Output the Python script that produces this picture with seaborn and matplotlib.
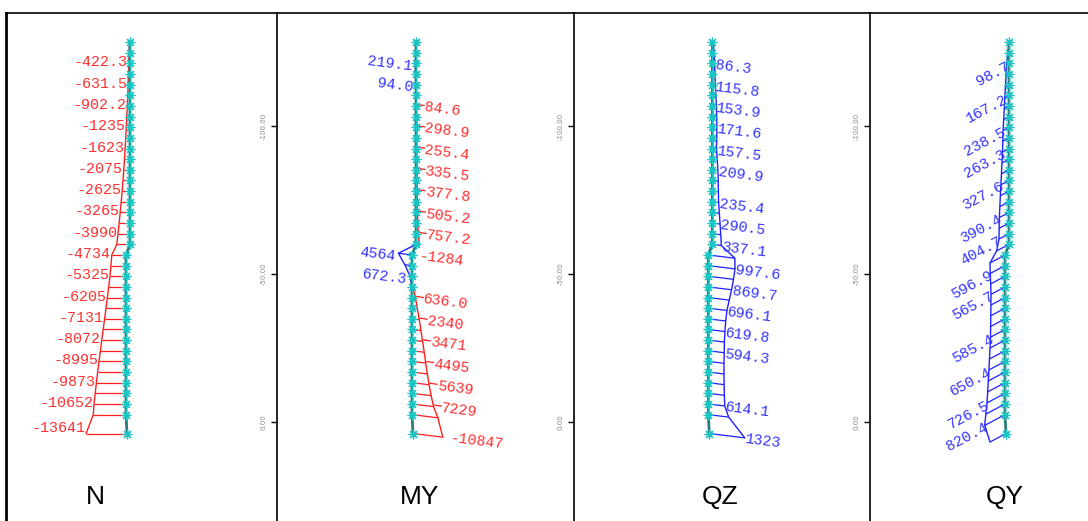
import numpy as np
import matplotlib
matplotlib.use("Agg")
import matplotlib.pyplot as plt
import seaborn as sns
from matplotlib.collections import LineCollection

# ── Data ─────────────────────────────────────────────────────────────

# node depths (axis units, -100 above 0) and small horizontal kink of the column (px)
node_depth = [-128.4, -124.8, -121.2, -117.6, -114.0, -110.4, -106.8, -103.2, -99.6, -96.0,
              -92.4, -88.8, -85.2, -81.6, -78.0, -74.4, -70.8, -67.2, -63.6, -60.0,
              -56.4, -52.8, -49.2, -45.6, -42.0, -38.4, -34.8, -31.2, -27.6, -24.0,
              -20.4, -16.8, -13.2, -9.6, -6.0, -2.4, 4.0]
node_shift = [4, 4, 4, 4, 4, 4, 4, 4, 4, 4, 4, 4, 4, 4, 4, 4, 4, 4, 4, 4,
              0, 0, 0, 0, 0, 0, 0, 0, 0, 0, 0, 0, 0, 0, 0, 0, 1]

# N: axial force
n_val = [-150, -300, -422.3, -520, -631.5, -760, -902.2, -1060, -1235, -1420,
         -1623, -1840, -2075, -2340, -2625, -2930, -3265, -3620, -3990, -4400,
         -4734, -5020, -5325, -5750, -6205, -6660, -7131, -7600, -8072, -8530,
         -8995, -9430, -9873, -10260, -10652, -10900, -13641]
n_lab_nodes = [3, 5, 7, 9, 11, 13, 15, 17, 19, 21, 23, 25, 27, 29, 31, 33, 35, 37]
n_lab_text = ["-422.3", "-631.5", "-902.2", "-1235", "-1623", "-2075", "-2625", "-3265",
              "-3990", "-4734", "-5325", "-6205", "-7131", "-8072", "-8995", "-9873",
              "-10652", "-13641"]

# MY: moment, drawn in pieces (start node, values)
my_top_blue = [0, -80, -219.1, -150, -94.0, 0]
my_upper_red = [0, 84.6, 200, 298.9, 280, 255.4, 300, 335.5, 355, 377.8, 440, 505.2,
                620, 757.2, 1100]
my_mid_blue = [0, -4564, -2400, -672.3, 0]
my_lower_red = [300, 1200, 1800, 2450, 3000, 3570, 4100, 4600, 5150, 5750, 6450,
                7229, 8700, 10000]
my_lab_nodes = [3, 5, 7, 9, 11, 13, 15, 17, 19, 21, 21, 23, 25, 27, 29, 31, 33, 35, 37]
my_lab_text = ["219.1", "94.0", "84.6", "298.9", "255.4", "335.5", "377.8", "505.2",
               "757.2", "-1284", "4564", "672.3", "636.0", "2340", "3471", "4495",
               "5639", "7229", "-10847"]
my_lab_color = ["b", "b", "r", "r", "r", "r", "r", "r", "r", "r", "b", "b",
                "r", "r", "r", "r", "r", "r", "r"]

# QZ: shear
qz_val = [40, 65, 86.3, 100, 115.8, 135, 153.9, 165, 171.6, 165, 157.5, 185, 209.9,
          220, 228, 235.4, 262, 290.5, 315, 337.1, 990, 997.6, 940, 869.7, 780, 696.1,
          650, 619.8, 600, 594.3, 585, 585, 590, 600, 614.1, 760, 1323]
qz_lab_nodes = [3, 5, 7, 9, 11, 13, 16, 18, 20, 22, 24, 26, 28, 30, 35, 37]
qz_lab_text = ["86.3", "115.8", "153.9", "171.6", "157.5", "209.9", "235.4", "290.5",
               "337.1", "997.6", "869.7", "696.1", "619.8", "594.3", "614.1", "1323"]

# QY: shear
qy_val = [0, 50, 98.7, 120, 145, 167.2, 190, 215, 238.5, 250, 263.3, 285, 305, 327.6,
          350, 370, 390.4, 398, 404.7, 500, 607, 596.9, 580, 565.7, 570, 575, 580,
          585.4, 605, 628, 650.4, 675, 700, 726.5, 775, 820.4, 646]
qy_lab_nodes = [3, 6, 9, 11, 14, 17, 19, 22, 24, 28, 31, 34, 36]
qy_lab_text = ["98.7", "167.2", "238.5", "263.3", "327.6", "390.4", "404.7", "596.9",
               "565.7", "585.4", "650.4", "726.5", "820.4"]

# ── Layout ───────────────────────────────────────────────────────────

W, H = 1088, 521
PX = 2.956            # pixels per axis unit (vertical)
Y_ZERO = 421.7        # pixel row of 0.00
TOP = 13
RED, BLUE = "#ff1f1f", "#2020ff"
TXT = {"r": "#ff3030", "b": "#3535ff"}
COL_LINE, COL_STAR = "#2a7a7a", "#1cc4c4"

sns.set_theme(style="white")
plt.rcParams["font.family"] = ["DejaVu Sans"]
mono = ["Liberation Mono", "DejaVu Sans Mono"]

fig = plt.figure(figsize=(W / 100, H / 100), dpi=100)

panels = [
    dict(name="N", left=6, right=277, col=126, k=0.003, ang=0, lx=95,
         runs=[(RED, 1, n_val)]),
    dict(name="MY", left=277, right=574, col=412, k=0.003, ang=7, lx=420,
         runs=[(BLUE, 1, my_top_blue), (RED, 6, my_upper_red),
               (BLUE, 20, my_mid_blue), (RED, 24, my_lower_red)]),
    dict(name="QZ", left=574, right=870, col=708.3, k=0.027, ang=7, lx=720,
         runs=[(BLUE, 1, qz_val)]),
    dict(name="QY", left=870, right=W, col=1005, k=0.028, ang=152, lx=1005,
         runs=[(BLUE, 1, qy_val)]),
]


def tip(p, node, v):
    a = np.radians(p["ang"])
    x = node_shift[node - 1] + v * p["k"] * np.cos(a)
    y = node_depth[node - 1] + v * p["k"] * np.sin(a) / PX
    return x, y


def run_value(p, node, color):
    for c, start, vals in p["runs"]:
        if c == color and start <= node < start + len(vals):
            return vals[node - start]
    return 0.0


axes = []
for i, p in enumerate(panels):
    ax = fig.add_axes([p["left"] / W, 0, (p["right"] - p["left"]) / W, (H - TOP) / H])
    ax.set_xlim(p["left"] - p["col"], p["right"] - p["col"])
    ax.set_ylim((H - Y_ZERO) / PX, (TOP - Y_ZERO) / PX)
    for s in ["right", "bottom"]:
        ax.spines[s].set_visible(False)
    for s in ["left", "top"]:
        ax.spines[s].set_color("black")
        ax.spines[s].set_linewidth(1.2)
    ax.set_xticks([])
    ax.set_yticks([-100, -50, 0])
    if i == 0:
        ax.set_yticklabels([])
        ax.tick_params(axis="y", length=0)
        ax.spines["left"].set_linewidth(2)
    else:
        ax.set_yticklabels(["-100.00", "-50.00", "0.00"], rotation=90, va="center",
                           fontsize=5, color="#8a8a8a")
        ax.tick_params(axis="y", length=4.5, width=1, color="black", pad=3,
                       direction="out", left=True)
    ax.grid(False)

    # diagram: hatch lines + outline for each run
    for color, start, vals in p["runs"]:
        nodes = list(range(start, start + len(vals)))
        tips = [tip(p, n, v) for n, v in zip(nodes, vals)]
        segs = [[(node_shift[n - 1], node_depth[n - 1]), t] for n, t in zip(nodes, tips)]
        ax.add_collection(LineCollection(segs, colors=color, linewidths=0.9, zorder=2))
        sns.lineplot(x=[t[0] for t in tips], y=[t[1] for t in tips], sort=False,
                     estimator=None, color=color, lw=1.0, ax=ax, zorder=3)

    # column with node stars
    sns.lineplot(x=node_shift, y=node_depth, sort=False, estimator=None,
                 color=COL_LINE, lw=2.0, ax=ax, zorder=4)
    ax.plot(node_shift, node_depth, ls="none", marker=(8, 2, 0), ms=7,
            mec=COL_STAR, mew=0.9, zorder=5)
    ax.set_xlabel("")
    ax.set_ylabel("")

    fig.text(p["lx"] / W, 1 - 497 / H, p["name"], ha="center", va="center",
             fontsize=19, color="black", fontstretch="condensed",
             family=["Liberation Sans Narrow", "Liberation Sans", "DejaVu Sans"])
    axes.append(ax)

# ── value labels ─────────────────────────────────────────────────────
FS = 10.8
ax_n, ax_my, ax_qz, ax_qy = axes
p = panels[0]
for n, t in zip(n_lab_nodes, n_lab_text):
    x, y = tip(p, n, run_value(p, n, RED))
    dy = -6 if n == 37 else -1
    ax_n.text(x - 1, y + dy / PX, t, ha="right", va="center", color=TXT["r"],
              fontsize=FS, family=mono)

p = panels[1]
for n, t, c in zip(my_lab_nodes, my_lab_text, my_lab_color):
    col = RED if c == "r" else BLUE
    x, y = tip(p, n, run_value(p, n, col))
    if c == "r":
        x0 = max(x, node_shift[n - 1]) + 3
        if not t.startswith("-"):
            ax_my.plot([x0 - 2, x0 + 5], [y - 1.5 / PX, y - 0.5 / PX], color=RED, lw=0.9)
            x0 += 5
        else:
            x0 += 4
        ax_my.text(x0, y + 1 / PX, t, ha="left", va="center", rotation=-7,
                   rotation_mode="anchor", color=TXT["r"], fontsize=FS, family=mono)
    else:
        x0 = min(x, node_shift[n - 1]) - 3
        ax_my.text(x0, y + 3 / PX, t, ha="right", va="center", rotation=-7,
                   rotation_mode="anchor", color=TXT["b"], fontsize=FS, family=mono)

p = panels[2]
for n, t in zip(qz_lab_nodes, qz_lab_text):
    x, y = tip(p, n, run_value(p, n, BLUE))
    ax_qz.text(x + 0.5, y + 1.5 / PX, t, ha="left", va="center", rotation=-7,
               rotation_mode="anchor", color=TXT["b"], fontsize=FS, family=mono)

p = panels[3]
for n, t in zip(qy_lab_nodes, qy_lab_text):
    x, y = tip(p, n, run_value(p, n, BLUE))
    ax_qy.text(x + 2, y + 1 / PX, t, ha="right", va="center", rotation=28,
               rotation_mode="anchor", color=TXT["b"], fontsize=FS, family=mono)

fig.savefig("out.png", dpi=100)
